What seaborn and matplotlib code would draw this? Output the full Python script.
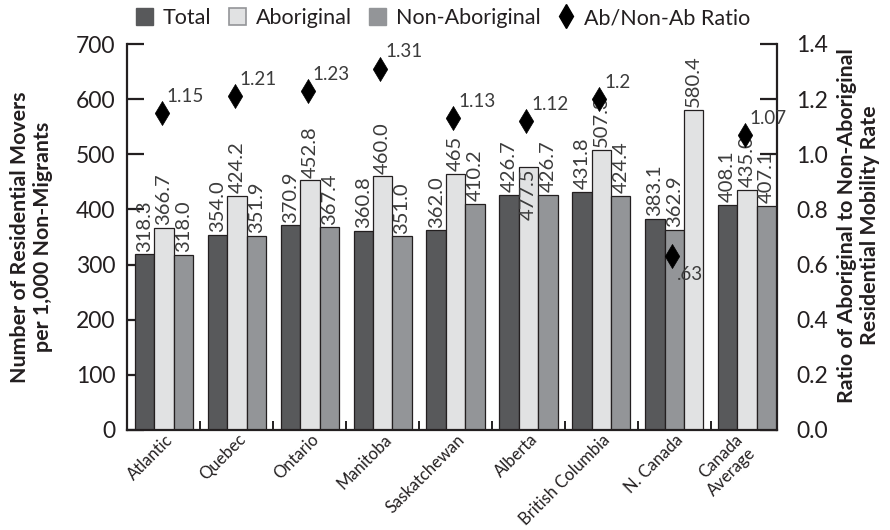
import numpy as np
import pandas as pd
import matplotlib
matplotlib.use("Agg")
import matplotlib.pyplot as plt
import seaborn as sns
from matplotlib.patches import Patch
from matplotlib.lines import Line2D
from matplotlib.ticker import MultipleLocator, FixedLocator, FormatStrFormatter
from matplotlib.transforms import ScaledTranslation

# ---- data -------------------------------------------------------------
regions = ["Atlantic", "Quebec", "Ontario", "Manitoba", "Saskatchewan",
           "Alberta", "British Columbia", "N. Canada", "Canada\nAverage"]
series_names = ["Total", "Aboriginal", "Non-Aboriginal"]

total = [318.3, 354.0, 370.9, 360.8, 362.0, 426.7, 431.8, 383.1, 408.1]
aboriginal = [366.7, 424.2, 452.8, 460.0, 465.0, 477.5, 507.3, 580.4, 435.0]
non_aboriginal = [318.0, 351.9, 367.4, 351.0, 410.2, 426.7, 424.4, 362.9, 407.1]

total_labels = ["318.3", "354.0", "370.9", "360.8", "362.0", "426.7", "431.8", "383.1", "408.1"]
aboriginal_labels = ["366.7", "424.2", "452.8", "460.0", "465", "477.5", "507.3", "580.4", "435.0"]
non_aboriginal_labels = ["318.0", "351.9", "367.4", "351.0", "410.2", "426.7", "424.4", "362.9", "407.1"]

ratio = [1.15, 1.21, 1.23, 1.31, 1.13, 1.12, 1.20, 0.63, 1.07]
ratio_labels = ["1.15", "1.21", "1.23", "1.31", "1.13", "1.12", "1.2", ".63", "1.07"]

# N. Canada lists its bars in a different order
bar_order = {"N. Canada": ["Total", "Non-Aboriginal", "Aboriginal"]}
inside_labels = {("Alberta", "Aboriginal")}
ratio_label_below = {"N. Canada"}

# ---- style ------------------------------------------------------------
colors = {"Total": "#58595b", "Aboriginal": "#e1e2e3", "Non-Aboriginal": "#939598"}
ink = "#231f20"
value_ink = "#3c3c3c"

sns.set_theme(style="white")
plt.rcParams["font.family"] = ["Lato", "DejaVu Sans"]

rows = []
values = {"Total": (total, total_labels),
          "Aboriginal": (aboriginal, aboriginal_labels),
          "Non-Aboriginal": (non_aboriginal, non_aboriginal_labels)}
for i, region in enumerate(regions):
    for slot, s in enumerate(bar_order.get(region, series_names)):
        vals, labs = values[s]
        rows.append({"region": region, "series": s, "slot": slot,
                     "value": vals[i], "label": labs[i]})
df = pd.DataFrame(rows)

fig = plt.figure(figsize=(8.9, 5.3), dpi=100)
ax1 = fig.add_axes([127 / 890, 1 - 430 / 530, 650 / 890, 386 / 530])
ax2 = ax1.twinx()
ax1.set_zorder(ax2.get_zorder() + 1)
ax1.patch.set_visible(False)

sns.barplot(data=df, x="region", y="value", hue="slot", order=regions,
            hue_order=[0, 1, 2], palette=["#888888"] * 3, width=0.8,
            edgecolor=ink, linewidth=0.9, errorbar=None, legend=False,
            ax=ax1)

bar_w = 0.8 / 3
label_kw = dict(rotation=90, fontsize=14.5, fontweight="normal", color=value_ink,
                textcoords="offset points")
for patch in ax1.patches:
    cx = patch.get_x() + patch.get_width() / 2
    idx = int(round(cx))
    slot = int(round((cx - idx) / bar_w)) + 1
    row = df[(df.region == regions[idx]) & (df.slot == slot)].iloc[0]
    patch.set_facecolor(colors[row.series])
    h = patch.get_height()
    if (row.region, row.series) in inside_labels:
        ax1.annotate(row.label, xy=(cx, h), xytext=(0, -1.5), ha="center",
                     va="top", **label_kw)
    else:
        ax1.annotate(row.label, xy=(cx, h), xytext=(0, 2), ha="center",
                     va="bottom", **label_kw)

# ratio markers, drawn on the bar layer but in ratio units
xpos = np.arange(len(regions)) - 0.03
ratio_df = pd.DataFrame({"x": xpos, "ratio": ratio})
sns.scatterplot(data=ratio_df, x="x", y="ratio", marker="d", s=150,
                color="black", edgecolor="black", linewidth=0.5,
                transform=ax2.transData, ax=ax1, legend=False, zorder=5)
for x, r, lab, region in zip(xpos, ratio, ratio_labels, regions):
    if region in ratio_label_below:
        offset, va = (3.5, -7), "top"
    else:
        offset, va = (3.5, 6), "bottom"
    ax1.annotate(lab, xy=(x, r), xycoords=ax2.transData,
                 xytext=offset, textcoords="offset points",
                 ha="left", va=va, fontsize=13.5, fontweight="normal",
                 color=value_ink, zorder=6)

# ---- axes -------------------------------------------------------------
ax1.set_xlim(-0.508, 8.41)
ax1.set_ylim(0, 700)
ax2.set_ylim(0, 1.4)
ax1.yaxis.set_major_locator(MultipleLocator(100))
ax2.yaxis.set_major_locator(MultipleLocator(0.2))
ax2.yaxis.set_major_formatter(FormatStrFormatter("%.1f"))
ax1.set_axisbelow(True)

for ax in (ax1, ax2):
    for sp in ax.spines.values():
        sp.set_color(ink)
        sp.set_linewidth(1.6)
    ax.spines["top"].set_visible(False)
ax2.spines["left"].set_visible(False)
ax2.spines["bottom"].set_visible(False)
ax1.spines["right"].set_visible(False)

ax1.tick_params(axis="y", direction="in", length=12.5, width=1.6, color=ink,
                labelsize=16.5, pad=8.5, labelcolor=ink)
ax2.tick_params(axis="y", direction="in", length=12.5, width=1.6, color=ink,
                labelsize=16.5, pad=14, labelcolor=ink)
ax1.tick_params(axis="x", which="major", length=0, pad=1.0, labelsize=12,
                labelcolor=ink)
ax1.xaxis.set_minor_locator(FixedLocator(np.arange(len(regions) - 1) + 0.5))
ax1.tick_params(axis="x", which="minor", direction="in", length=6.5,
                width=1.4, color=ink, bottom=True)

ax1.set_xticks(range(len(regions)))
ax1.set_xticklabels(regions, rotation=45, ha="right")
shift = ScaledTranslation(12 / 100, 0, fig.dpi_scale_trans)
for lab in ax1.get_xticklabels():
    lab.set_transform(lab.get_transform() + shift)
ax1.set_xlabel("")

ax1.set_ylabel("Number of Residential Movers\nper 1,000 Non-Migrants",
               fontsize=15.4, fontweight="bold", color=ink, linespacing=1.2)
ax1.yaxis.set_label_coords(-0.114, 0.5)
ax2.set_ylabel("Ratio of Aboriginal to Non-Aboriginal\nResidential Mobility Rate",
               fontsize=15.4, fontweight="bold", color=ink, linespacing=1.2)
ax2.yaxis.set_label_coords(1.092, 0.53)

# ---- legend -----------------------------------------------------------
handles = [
    Patch(facecolor=colors["Total"], edgecolor=colors["Total"]),
    Patch(facecolor=colors["Aboriginal"], edgecolor="#939598", linewidth=1.2),
    Patch(facecolor=colors["Non-Aboriginal"], edgecolor=colors["Non-Aboriginal"]),
    Line2D([], [], marker="d", color="black", linestyle="none", markersize=12.2),
]
fig.legend(handles, ["Total", "Aboriginal", "Non-Aboriginal", "Ab/Non-Ab Ratio"],
           loc="center left", bbox_to_anchor=(136 / 890, 1 - 18 / 530),
           ncol=4, frameon=False, fontsize=15.5, handlelength=0.8,
           handleheight=0.85, handletextpad=0.45, columnspacing=0.8,
           borderpad=0, borderaxespad=0, labelcolor=ink)

fig.savefig("out.png", dpi=100)
